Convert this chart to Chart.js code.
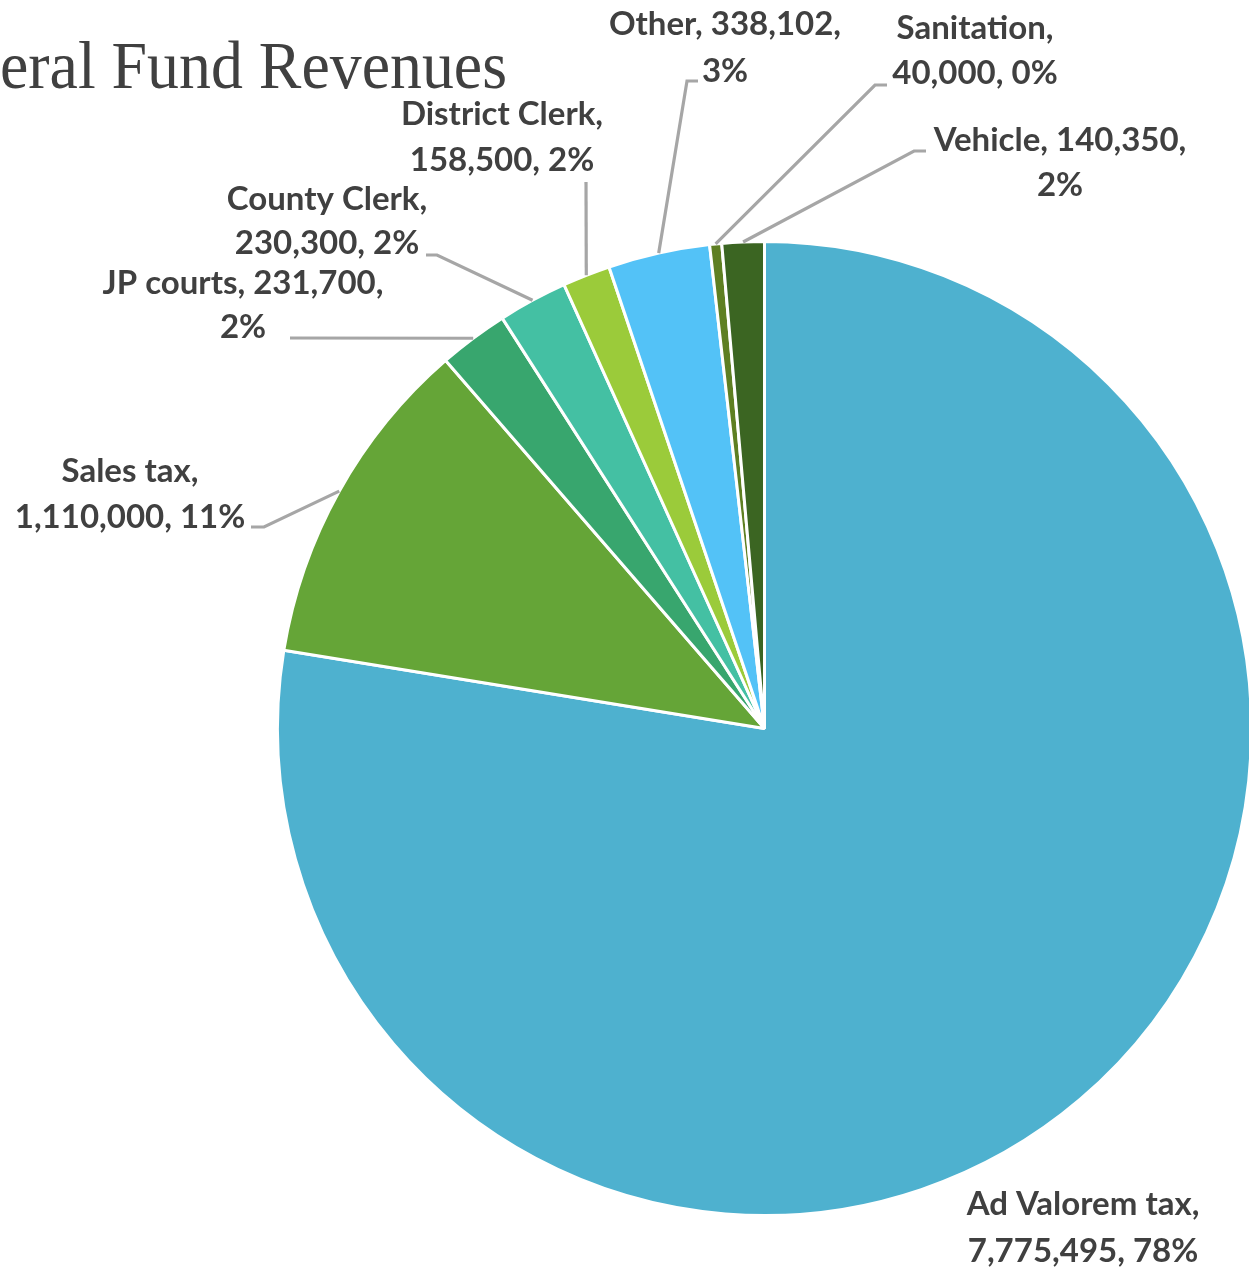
<!DOCTYPE html>
<html>
<head>
<meta charset="utf-8">
<script src="https://cdn.jsdelivr.net/npm/chart.js@4.4.0/dist/chart.umd.min.js"></script>
<style>
    html, body { margin: 0; padding: 0; overflow: hidden; background: #fff; }
    #wrap { position: absolute; left: 0; top: 0; width: 1256px; height: 1269px; }
</style>
</head>
<body>
<div id="wrap"><canvas id="pieChart"></canvas></div>
<script>
const categories = ['Ad Valorem tax', 'Sales tax', 'JP courts', 'County Clerk', 'District Clerk', 'Other', 'Sanitation', 'Vehicle'];
const revenues = [7775495, 1110000, 231700, 230300, 158500, 338102, 40000, 140350];
const percentLabels = ['78%', '11%', '2%', '2%', '2%', '3%', '0%', '2%'];
const sliceColors = ['#4eb1cf', '#65a537', '#38a66e', '#44c0a3', '#9bcb3a', '#53c2f7', '#5e7f22', '#3b6522'];

// where each label sits: text centre x, line centres y, where the name/value break goes, leader elbow
const labelLayout = [
    { x: 1083, y: [1204, 1251], brk: 'name', elbow: null },
    { x: 130, y: [471, 517], brk: 'name', elbow: [264, 527], endX: 251 },
    { x: 243, y: [283, 327], brk: 'value', elbow: [290, 338], endX: null },
    { x: 327, y: [199, 243], brk: 'name', elbow: [437, 255], endX: 426 },
    { x: 502, y: [114, 160], brk: 'name', elbow: [586, 182], endX: null },
    { x: 725, y: [24, 71], brk: 'value', elbow: [687, 81], endX: 698 },
    { x: 975, y: [28, 73], brk: 'name', elbow: [875, 85], endX: 887 },
    { x: 1060, y: [140, 185], brk: 'value', elbow: [914, 151], endX: 926 }
];

function labelLines(i) {
    const val = revenues[i].toLocaleString('en-US');
    if (labelLayout[i].brk === 'name') {
        return [categories[i] + ',', val + ', ' + percentLabels[i]];
    }
    return [categories[i] + ', ' + val + ',', percentLabels[i]];
}

const sliceLabels = {
    id: 'sliceLabels',
    afterDatasetsDraw(chart) {
        const ctx = chart.ctx;
        const arcs = chart.getDatasetMeta(0).data;
        ctx.save();
        ctx.strokeStyle = '#a6a6a6';
        ctx.lineWidth = 3.2;
        arcs.forEach((arc, i) => {
            const L = labelLayout[i];
            if (!L.elbow) return;
            const p = arc.getProps(['x', 'y', 'startAngle', 'endAngle', 'outerRadius']);
            const mid = (p.startAngle + p.endAngle) / 2;
            const sx = p.x + Math.cos(mid) * p.outerRadius;
            const sy = p.y + Math.sin(mid) * p.outerRadius;
            ctx.beginPath();
            ctx.moveTo(sx, sy);
            ctx.lineTo(L.elbow[0], L.elbow[1]);
            if (L.endX != null) ctx.lineTo(L.endX, L.elbow[1]);
            ctx.stroke();
        });

        ctx.fillStyle = '#404040';
        ctx.font = 'bold 33px Lato';
        ctx.textAlign = 'center';
        ctx.textBaseline = 'middle';
        arcs.forEach((arc, i) => {
            const L = labelLayout[i];
            labelLines(i).forEach((t, k) => ctx.fillText(t, L.x, L.y[k]));
        });

        // title, cut off at the left like the original ("eral ..." fills 0..507)
        ctx.font = '68px "Liberation Serif"';
        ctx.textAlign = 'right';
        ctx.textBaseline = 'alphabetic';
        const sx = 507 / ctx.measureText('eral Fund Revenues').width;
        ctx.translate(507, 88);
        ctx.scale(sx, 1);
        ctx.fillText('General Fund Revenues', 0, 0);
        ctx.restore();
    }
};

document.addEventListener('DOMContentLoaded', function () {
    var ctx = document.getElementById('pieChart').getContext('2d');

    var pieChart = new Chart(ctx, {
        type: 'pie',
        data: {
            labels: categories,
            datasets: [{
                data: revenues,
                backgroundColor: sliceColors,
                borderColor: '#ffffff',
                borderWidth: 3,
                hoverOffset: 0
            }]
        },
        options: {
            responsive: true,
            maintainAspectRatio: false,
            animation: false,
            layout: {
                padding: { left: 276, top: 240, right: 3, bottom: 52 }
            },
            plugins: {
                legend: { display: false },
                tooltip: { enabled: false },
                title: { display: false }
            }
        },
        plugins: [sliceLabels]
    });
});
</script>
</body>
</html>
